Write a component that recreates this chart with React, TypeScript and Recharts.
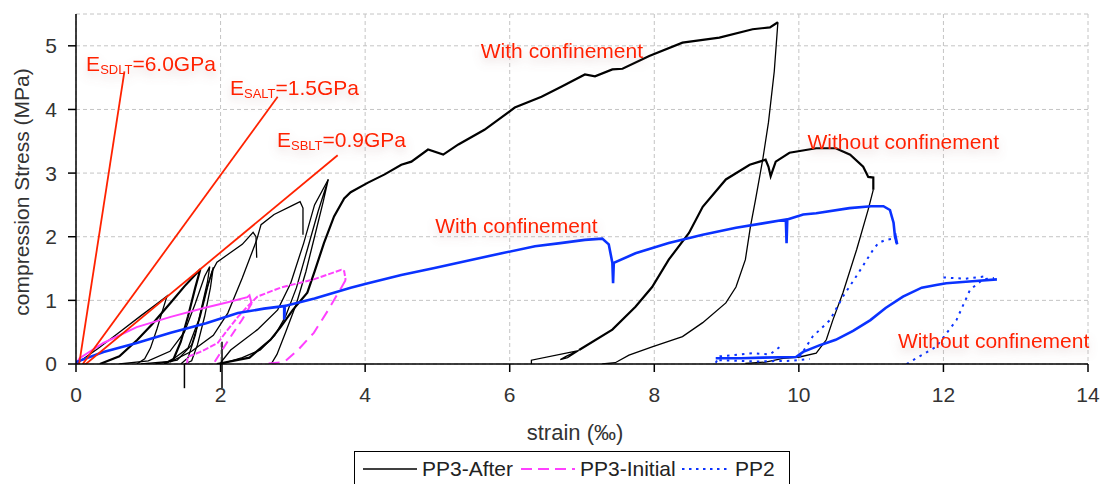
import React from 'react';
import { LineChart, Line, XAxis, YAxis, CartesianGrid, Legend, ReferenceLine, ReferenceDot } from 'recharts';

type P = [number, number];

// ---------- data (strain ‰, stress MPa) ----------
const xTicks = [0, 2, 4, 6, 8, 10, 12, 14];
const yTicks = [0, 1, 2, 3, 4, 5];

// PP3-After (black)
const pp3AfterLoop1: P[] = [[0, 0], [0.3, 0.24], [0.6, 0.5], [0.9, 0.76], [1.1, 0.93], [1.26, 1.07], [1.2, 0.85], [1.12, 0.55], [1.03, 0.25], [0.95, 0.08], [0.84, 0]];
const pp3AfterLoop2: P[] = [[0.33, 0], [0.6, 0.12], [0.85, 0.38], [1.05, 0.62], [1.3, 0.95], [1.5, 1.22], [1.72, 1.49], [1.65, 1.2], [1.55, 0.75], [1.45, 0.35], [1.35, 0.08], [1.22, 0]];
const pp3AfterLoop3: P[] = [[0.6, 0], [1.0, 0.05], [1.3, 0.2], [1.5, 0.5], [1.65, 0.95], [1.78, 1.38], [1.85, 1.53], [1.82, 1.3], [1.74, 0.9], [1.65, 0.45], [1.55, 0.1], [1.45, 0]];
const pp3AfterLoop4: P[] = [[0.9, 0], [1.3, 0.04], [1.55, 0.25], [1.7, 0.7], [1.8, 1.15], [1.88, 1.45], [1.95, 1.6], [2.1, 1.72], [2.3, 1.88], [2.45, 2.07], [2.49, 2.0], [2.5, 1.67]];
const pp3AfterLoop5: P[] = [[1.3, 0.03], [1.6, 0.2], [1.9, 0.45], [2.1, 0.8], [2.3, 1.35], [2.5, 1.95], [2.56, 2.19], [2.74, 2.35], [3.01, 2.5], [3.1, 2.55], [3.14, 2.45], [3.14, 2.03]];
const pp3AfterLoop6: P[] = [[2.0, 0], [2.3, 0.1], [2.55, 0.22], [2.75, 0.45], [2.9, 0.75], [3.05, 1.2], [3.2, 1.8], [3.35, 2.4], [3.49, 2.9], [3.42, 2.55], [3.3, 2.0], [3.18, 1.45], [3.05, 0.95], [2.9, 0.5], [2.78, 0.15], [2.7, 0]];
const pp3AfterLoop7: P[] = [[2.0, 0.02], [2.14, 0.22], [2.51, 0.54], [2.79, 0.85], [2.97, 1.27], [3.15, 1.9], [3.3, 2.5], [3.49, 2.9]];
const pp3AfterLoop8: P[] = [[1.1, 0], [1.4, 0.06], [1.6, 0.3], [1.72, 0.75], [1.83, 1.25], [1.9, 1.52], [1.86, 1.2], [1.78, 0.75], [1.68, 0.3], [1.6, 0.05], [1.5, 0]];
const pp3AfterMainLoad: P[] = [[1.95, 0], [2.4, 0.1], [2.69, 0.38], [2.83, 0.58], [3.0, 0.85], [3.2, 1.12], [3.3, 1.45], [3.43, 1.9], [3.57, 2.32], [3.71, 2.6], [3.8, 2.7], [4.04, 2.85], [4.27, 2.98], [4.5, 3.13], [4.64, 3.18], [4.87, 3.37], [5.08, 3.29], [5.29, 3.45], [5.65, 3.68], [6.07, 4.03], [6.44, 4.2], [6.72, 4.36], [7.04, 4.55], [7.18, 4.52], [7.42, 4.63], [7.56, 4.64], [7.93, 4.84], [8.39, 5.05], [8.9, 5.13], [9.36, 5.26], [9.6, 5.29], [9.71, 5.37]];
const pp3AfterMainUnload: P[] = [[9.71, 5.37], [9.66, 4.6], [9.58, 3.8], [9.5, 3.21], [9.4, 2.58], [9.33, 2.16], [9.26, 1.64], [9.13, 1.21], [8.99, 0.96], [8.67, 0.65], [8.39, 0.43], [7.97, 0.27], [7.65, 0.14], [7.46, 0.02], [7.28, 0]];
const pp3AfterFreeStart: P[] = [[6.3, 0], [6.3, 0.06], [6.9, 0.2], [6.95, 0.21], [6.8, 0.1], [6.7, 0.07], [6.78, 0.12], [6.96, 0.22]];
const pp3AfterFreeLoad: P[] = [[6.96, 0.22], [7.42, 0.54], [7.74, 0.9], [7.97, 1.21], [8.2, 1.64], [8.48, 2.06], [8.67, 2.47], [8.99, 2.9], [9.32, 3.13], [9.54, 3.21], [9.58, 3.1], [9.61, 2.95], [9.64, 3.05], [9.68, 3.18], [9.87, 3.32], [10.24, 3.39], [10.51, 3.39], [10.71, 3.29], [10.89, 3.1], [10.96, 2.94], [11.03, 2.93], [11.03, 2.74]];
const pp3AfterFreeUnload: P[] = [[11.03, 2.74], [10.96, 2.43], [10.8, 1.8], [10.61, 1.12], [10.47, 0.69], [10.38, 0.38], [10.24, 0.17], [10.01, 0.11], [9.78, 0.09], [9.54, 0.03], [9.26, 0.01]];
const pp3AfterStubs: P[][] = [[[1.5, 0], [1.5, -0.38]], [[2.02, 0.35], [2.02, -0.38]]];

// PP3-Initial (magenta)
const pp3InitLoad1: P[] = [[0, 0], [0.05, 0.09], [0.38, 0.33], [0.84, 0.58], [1.31, 0.74], [1.77, 0.88], [2.1, 0.97], [2.37, 1.05], [2.4, 1.08], [2.43, 0.95]];
const pp3InitUnload1: P[] = [[2.43, 0.95], [2.3, 0.7], [2.14, 0.43], [2.0, 0.18], [1.9, 0]];
const pp3InitReload: P[] = [[1.54, 0], [1.54, 0.11], [1.72, 0.19], [1.96, 0.33], [2.1, 0.54], [2.24, 0.74], [2.37, 0.9], [2.51, 1.06], [2.83, 1.2], [3.29, 1.33], [3.67, 1.48], [3.71, 1.46], [3.73, 1.32]];
const pp3InitUnload2: P[] = [[3.73, 1.32], [3.67, 1.2], [3.49, 0.85], [3.29, 0.49], [3.07, 0.22], [2.88, 0.03], [2.56, 0]];

// PP2 (blue)
const pp2ConfMain: P[] = [[0, 0.03], [0.38, 0.19], [0.84, 0.33], [1.31, 0.49], [1.8, 0.64], [2.24, 0.8], [2.6, 0.87], [2.88, 0.91], [2.88, 0.7], [2.89, 0.91], [3.3, 1.03], [3.8, 1.2], [4.04, 1.27], [4.5, 1.4], [4.96, 1.51], [5.4, 1.62], [5.89, 1.74], [6.35, 1.85], [6.7, 1.9], [7.04, 1.95], [7.28, 1.97], [7.37, 1.88], [7.42, 1.59], [7.43, 1.27], [7.44, 1.59], [7.74, 1.74], [8.2, 1.9], [8.67, 2.03], [9.13, 2.14], [9.5, 2.21], [9.82, 2.27], [9.83, 1.9], [9.84, 2.27], [10.06, 2.35], [10.24, 2.37], [10.7, 2.45], [11.0, 2.48], [11.17, 2.48], [11.26, 2.42], [11.31, 2.22], [11.33, 2.0], [11.36, 1.88], [11.33, 2.05], [11.35, 1.9]];
const pp2FreeMain: P[] = [[8.85, 0.09], [9.2, 0.09], [9.5, 0.1], [9.96, 0.11], [10.06, 0.19], [10.3, 0.3], [10.51, 0.38], [10.75, 0.52], [10.99, 0.69], [11.2, 0.88], [11.44, 1.06], [11.7, 1.2], [11.9, 1.24], [12.04, 1.27], [12.4, 1.3], [12.74, 1.33]];
const pp2Dotted1: P[] = [[10.01, 0.11], [10.19, 0.43], [10.43, 0.69], [10.61, 1.06], [10.79, 1.37], [11.03, 1.8], [11.1, 1.9], [11.2, 1.95], [11.3, 1.97]];
const pp2Dotted2: P[] = [[11.49, 0], [11.9, 0.27], [12.18, 0.69], [12.37, 1.17], [12.55, 1.33], [12.7, 1.35]];
const pp2Dotted3: P[] = [[8.85, 0.02], [8.9, 0.12], [9.1, 0.14], [9.35, 0.17], [9.6, 0.15], [9.75, 0.28]];
const pp2Dotted4: P[] = [[8.9, 0.06], [9.4, 0.04], [9.9, 0.05], [10.15, 0.08]];
const pp2Dotted5: P[] = [[12.0, 1.36], [12.3, 1.34], [12.6, 1.38]];

// modulus lines (red)
const eSDLT: P[] = [[0.03, -0.1], [0.67, 4.6]];
const eSALT: P[] = [[0.03, -0.1], [2.79, 4.2]];
const eSBLT: P[] = [[0.03, -0.1], [3.62, 3.28]];

// annotation anchors (x, y) with text
const modulusLabels = [
  { x: 0.14, y: 4.61, sub: 'SDLT', tail: '=6.0GPa' },
  { x: 2.13, y: 4.23, sub: 'SALT', tail: '=1.5GPa' },
  { x: 2.78, y: 3.41, sub: 'SBLT', tail: '=0.9GPa' },
];
const noteLabels = [
  { x: 5.6, y: 4.81, text: 'With confinement' },
  { x: 4.97, y: 2.06, text: 'With confinement' },
  { x: 10.12, y: 3.38, text: 'Without confinement' },
  { x: 11.37, y: 0.25, text: 'Without confinement' },
];

const legendItems = ['PP3-After', 'PP3-Initial', 'PP2'];

// ---------- styles ----------
const FONT = '"Liberation Sans", Arial, sans-serif';
const FS = 21;
const RED = '#ff2200';
const BLACK = '#000000';
const MAGENTA = '#ff40ff';
const BLUE = '#0a32ff';

const pts = (a: P[]) => a.map(([x, y]) => ({ x, y }));

const blackThin = [pp3AfterLoop1, pp3AfterLoop3, pp3AfterLoop4, pp3AfterLoop5, pp3AfterLoop6, pp3AfterLoop7, pp3AfterLoop8, pp3AfterMainUnload, pp3AfterFreeStart, pp3AfterFreeUnload];
const blackThick = [pp3AfterLoop2, pp3AfterMainLoad, pp3AfterFreeLoad];

const LegendBox = () => (
  <div style={{ position: 'relative', boxSizing: 'border-box', width: 436, height: 36, border: '1px solid #000', background: '#fff', fontFamily: FONT, fontSize: FS, color: '#222' }}>
    <svg style={{ position: 'absolute', left: 8, top: 12 }} width={54} height={10}>
      <line x1={0} y1={5} x2={54} y2={5} stroke={BLACK} strokeWidth={1.5} />
    </svg>
    <span style={{ position: 'absolute', left: 67, top: 5, lineHeight: '24px' }}>{legendItems[0]}</span>
    <svg style={{ position: 'absolute', left: 166, top: 12 }} width={54} height={10}>
      <line x1={0} y1={5} x2={54} y2={5} stroke={MAGENTA} strokeWidth={2} strokeDasharray="11 6" />
    </svg>
    <span style={{ position: 'absolute', left: 225, top: 5, lineHeight: '24px' }}>{legendItems[1]}</span>
    <svg style={{ position: 'absolute', left: 327, top: 12 }} width={48} height={10}>
      <line x1={0} y1={5} x2={48} y2={5} stroke={BLUE} strokeWidth={2} strokeDasharray="2.5 4.5" />
    </svg>
    <span style={{ position: 'absolute', left: 380, top: 5, lineHeight: '24px' }}>{legendItems[2]}</span>
  </div>
);

export default function App() {
  return (
    <div style={{ position: 'absolute', left: 0, top: 0, background: '#fff' }}>
      <svg width={0} height={0} style={{ position: 'absolute' }}>
        <defs>
          <filter id="glow" x="-20%" y="-60%" width="140%" height="260%">
            <feDropShadow dx="0" dy="5" stdDeviation="5" floodColor="#a07070" floodOpacity="0.3" />
          </filter>
        </defs>
      </svg>
      <LineChart width={1101} height={484} margin={{ top: 14, right: 13, left: 0, bottom: 40 }} style={{ fontFamily: FONT }}>
        <CartesianGrid stroke="#c4c4c4" strokeDasharray="4 3" />
        <XAxis
          dataKey="x"
          type="number"
          domain={[0, 14]}
          ticks={xTicks}
          allowDataOverflow
          height={80}
          tickSize={8}
          tickMargin={15}
          stroke="#000"
          strokeWidth={1.5}
          tick={{ fill: '#333', fontSize: FS, fontFamily: FONT }}
          label={(p: any) => {
            const vb = p.viewBox;
            return (
              <text x={vb.x + vb.width / 2 - 7} y={vb.y + 76} textAnchor="middle" fill="#333" fontSize={FS + 1} fontFamily={FONT}>
                strain (‰)
              </text>
            );
          }}
        />
        <YAxis
          dataKey="y"
          type="number"
          domain={[0, 5.5]}
          ticks={yTicks}
          allowDataOverflow
          width={76}
          tickSize={8}
          tickMargin={11}
          stroke="#000"
          strokeWidth={1.5}
          tick={{ fill: '#333', fontSize: FS, fontFamily: FONT }}
          label={(p: any) => {
            const vb = p.viewBox;
            const cx = 29;
            const cy = vb.y + vb.height / 2 + 3;
            return (
              <text x={cx} y={cy} transform={`rotate(-90 ${cx} ${cy})`} textAnchor="middle" fill="#333" fontSize={FS} fontFamily={FONT}>
                compression Stress (MPa)
              </text>
            );
          }}
        />

        {blackThin.map((s, i) => (
          <Line key={`bt${i}`} data={pts(s)} dataKey="y" type="linear" stroke={BLACK} strokeWidth={1.3} dot={false} isAnimationActive={false} legendType="none" />
        ))}
        {blackThick.map((s, i) => (
          <Line key={`bk${i}`} data={pts(s)} dataKey="y" type="linear" stroke={BLACK} strokeWidth={2.2} dot={false} isAnimationActive={false} legendType="none" />
        ))}
        {pp3AfterStubs.map((s, i) => (
          <ReferenceLine key={`st${i}`} segment={pts(s)} stroke={BLACK} strokeWidth={1.5} ifOverflow="visible" />
        ))}

        <Line data={pts(pp3InitLoad1)} dataKey="y" stroke={MAGENTA} strokeWidth={2} dot={false} isAnimationActive={false} legendType="none" />
        <Line data={pts(pp3InitUnload1)} dataKey="y" stroke={MAGENTA} strokeWidth={2} strokeDasharray="9 6" dot={false} isAnimationActive={false} legendType="none" />
        <Line data={pts(pp3InitReload)} dataKey="y" stroke={MAGENTA} strokeWidth={2} strokeDasharray="6 2" dot={false} isAnimationActive={false} legendType="none" />
        <Line data={pts(pp3InitUnload2)} dataKey="y" stroke={MAGENTA} strokeWidth={2} strokeDasharray="11 7" dot={false} isAnimationActive={false} legendType="none" />

        <Line data={pts(pp2ConfMain)} dataKey="y" stroke={BLUE} strokeWidth={2.6} dot={false} isAnimationActive={false} legendType="none" />
        <Line data={pts(pp2FreeMain)} dataKey="y" stroke={BLUE} strokeWidth={2.6} dot={false} isAnimationActive={false} legendType="none" />
        {[pp2Dotted1, pp2Dotted2, pp2Dotted3, pp2Dotted4, pp2Dotted5].map((s, i) => (
          <Line key={`bd${i}`} data={pts(s)} dataKey="y" stroke={BLUE} strokeWidth={2} strokeDasharray="2.5 5" dot={false} isAnimationActive={false} legendType="none" />
        ))}

        {[eSDLT, eSALT, eSBLT].map((s, i) => (
          <Line key={`r${i}`} data={pts(s)} dataKey="y" stroke={RED} strokeWidth={1.8} dot={false} isAnimationActive={false} legendType="none" />
        ))}

        {modulusLabels.map((m, i) => (
          <ReferenceDot
            key={`ml${i}`}
            x={m.x}
            y={m.y}
            r={1}
            ifOverflow="visible"
            shape={(p: any) => (
              <text x={p.cx} y={p.cy} fill={RED} fontSize={FS} fontFamily={FONT} filter="url(#glow)">
                <tspan>E</tspan>
                <tspan fontSize={13} dy={3}>{m.sub}</tspan>
                <tspan fontSize={FS} dy={-3}>{m.tail}</tspan>
              </text>
            )}
          />
        ))}
        {noteLabels.map((m, i) => (
          <ReferenceDot
            key={`nl${i}`}
            x={m.x}
            y={m.y}
            r={1}
            ifOverflow="visible"
            shape={(p: any) => (
              <text x={p.cx} y={p.cy} fill={RED} fontSize={FS} fontFamily={FONT} filter="url(#glow)">
                {m.text}
              </text>
            )}
          />
        ))}

        <Legend
          layout="horizontal"
          verticalAlign="middle"
          align="center"
          wrapperStyle={{ left: 354, top: 451, width: 436, height: 36 }}
          content={() => <LegendBox />}
        />
      </LineChart>
    </div>
  );
}
